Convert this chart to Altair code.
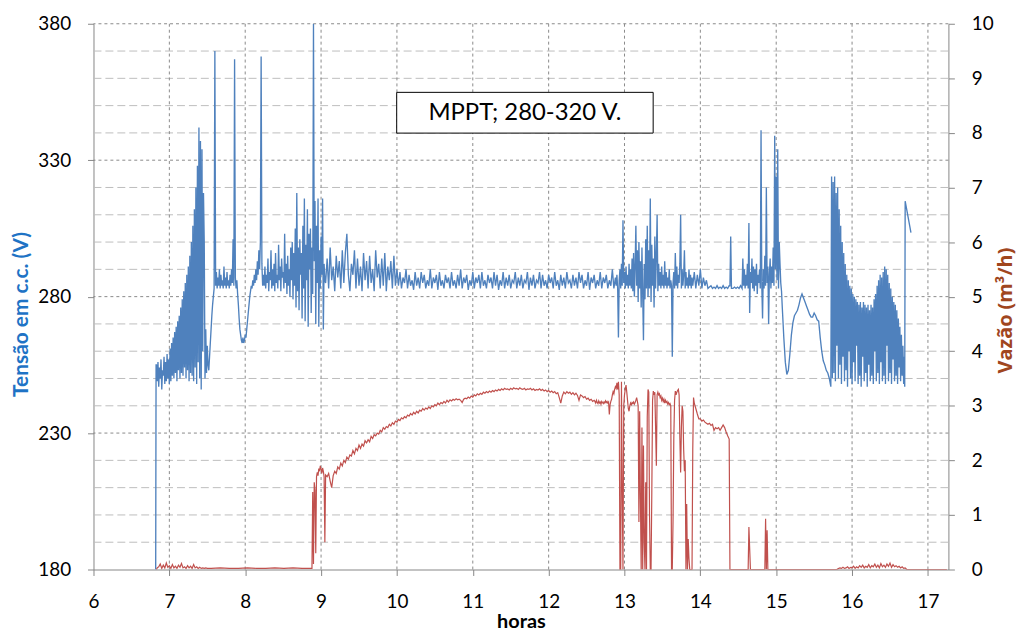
import altair as alt
import numpy as np
import pandas as pd

# ---------------- axis ticks / grid ----------------
HOURS = list(range(6, 18))
V_TICKS = [180, 230, 280, 330, 380]
Q_TICKS = list(range(0, 11))
V_MINOR = [190, 200, 210, 220, 240, 250, 260, 270, 290, 300, 310, 320, 340, 350, 360, 370]
V_MAJOR = [230, 280, 330, 380]
T_GRID = list(range(7, 18))
ANNOT = ["MPPT; 280-320 V."]

# ---------------- Tensão (V) : (start hour, end hour, readings) ----------------
V_START = [180, 255]
V_RAMP = [255, 249, 256, 247, 254, 250, 257, 246, 253, 251, 258, 248, 256, 249, 259, 250, 257, 248,
          261, 249, 263, 251, 265, 250, 267, 252, 269, 249, 271, 253, 273, 250, 276,
          252, 279, 251, 282, 254, 285, 250, 288, 253, 291, 249, 295, 252, 300, 251,
          306, 249, 312, 254, 320, 248, 328, 256, 342, 250, 337, 246, 334, 260, 318]
V_EARLY = [300, 250, 268, 252, 262, 255, 253, 258, 263, 268, 273, 277, 280, 283, 370, 284, 289, 283,
           287, 284, 290, 283, 288, 284, 286, 283, 291, 284, 287, 283, 289, 284, 286, 283, 288, 284,
           290, 285, 301, 284, 367, 287, 283, 286, 281]
V_DIP = [277, 272, 268, 266, 264, 263, 265, 263, 264, 266, 265, 268, 271, 274, 277, 280, 282, 284,
         283, 286, 284, 288, 285, 290, 286, 293, 288, 297, 290, 300]
V_SPIKE = [368, 292, 284, 288]
V_MORNING = [284, 291, 283, 288, 285, 294, 282, 289, 286, 297, 283, 290, 284, 292, 282, 296, 285, 288,
             283, 299, 286, 291, 282, 294, 287, 289, 283, 303, 285, 292, 281, 295, 284, 290, 280, 298]
V_NOISY = [286, 300, 279, 296, 284, 305, 276, 318, 282, 298, 275, 301, 288, 296, 272, 306, 283, 316,
           271, 299, 286, 312, 269, 303, 290, 305, 274, 298, 281, 380, 293, 315, 270, 306, 285, 316,
           269, 297, 283, 302, 288, 316, 268, 292, 286]
V_LATE = [285, 294, 283, 298, 286, 291, 282, 295, 287, 293,
          283, 297, 285, 296, 303, 288, 282, 292, 288, 297,
          283, 294, 284, 291, 282, 296, 286, 293, 283, 295,
          285, 290, 282, 297, 287, 292, 283, 294, 284, 296,
          282, 291, 286, 293, 283, 295, 284, 290]
V_MIDDAY = [284, 289, 283, 287, 285, 290, 283, 288, 284, 286, 282.5, 289,
            284, 287, 283, 289, 285, 288, 283, 286, 284, 290, 283, 287,
            285, 288, 282.5, 289, 284, 286, 283, 288, 285, 287, 283, 289,
            284, 286, 283, 288, 284, 290, 283, 287, 285, 288, 282.5, 286,
            284, 289, 283, 287, 285, 288, 283, 289, 284, 286, 283, 288,
            285, 287, 283, 289, 284, 288, 282.5, 286, 284, 289, 283, 287,
            284, 288, 283, 286, 285, 289, 283, 287, 284, 288, 283, 286,
            285, 289, 282.5, 287, 284, 288, 283, 286, 285, 289, 283, 288,
            284, 286, 283, 288, 285, 287, 283, 289, 284, 286, 282.5, 288,
            284, 287, 283, 289, 285, 286, 283, 288, 284, 287, 283, 289,
            285, 288, 283, 286, 284, 289, 282.5, 287, 285, 288, 283, 286,
            284, 289, 283, 287, 285, 288, 283, 286, 284, 290, 283, 287]
V_SPIKY = [284, 288, 283, 265, 286, 290, 283, 292, 284, 308,
           285, 289, 283, 291, 284, 288, 283, 292, 284, 290,
           283, 294, 282, 296, 280, 291, 306, 284, 297, 278,
           300, 283, 293, 276, 298, 281, 264, 292, 279, 301,
           283, 306, 280, 297, 283, 316, 278, 299, 284, 294,
           276, 302, 283, 295, 310, 282, 292, 284, 289, 283,
           291, 284, 288, 283, 293, 284, 289, 283, 287, 284,
           290, 283, 286, 284, 258, 285, 289, 283, 296, 284,
           291, 283, 288, 285, 292, 310, 283, 290, 284, 288,
           297, 283, 289, 284, 287, 283, 290, 284, 288, 283,
           287, 284]
V_QUIET = [289, 283, 288, 284, 290, 283, 287, 284, 286, 283]
V_FLAT = [283.5, 284, 283, 283.5, 283, 284, 283, 283.5, 283, 284, 283, 283.5, 283, 284]
V_SPIKE2 = [284, 302, 283]
V_FLAT2 = [283, 283.5, 283, 283.5, 283, 284, 283]
V_PM = [294, 284, 290, 283, 288, 284, 292, 283, 307, 274, 289, 285, 294, 283, 291, 282, 290, 284,
        292, 281, 288, 285, 290, 283, 341, 284, 272, 290, 283, 295, 284, 320, 285, 291, 270, 288,
        294, 283, 291, 285, 298, 284, 339, 290, 324, 286, 334, 283, 300, 292, 285, 282]
V_CURVE = [276, 265, 256, 251.5, 253, 259, 266, 270.5, 273, 274, 275, 277, 279.5, 281, 279.5, 278,
           276.5, 275, 273.5, 272.5, 272.5, 274, 273, 271.5, 271, 265, 260, 256.5, 255, 253, 252,
           250, 247]
V_OSC = [324, 250, 322, 252, 324, 249, 318, 262, 320, 250, 312, 255, 306, 248, 300, 258, 296, 249,
         292, 253, 288, 247, 286, 260, 284, 250, 283, 248, 281, 256, 280, 249, 279, 262, 278, 248,
         277, 251, 278, 247, 276, 258, 278, 249, 277, 252, 276, 247, 277, 255, 275, 249, 277, 251,
         276, 248, 279, 260, 281, 249, 284, 252, 286, 248, 288, 256, 287, 249, 289, 251, 291, 248,
         290, 262, 288, 249, 285, 252, 283, 248, 280, 257, 278, 249, 277, 251, 275, 248, 272, 254,
         269, 249, 266, 251, 262, 248, 258]
V_END1 = [247, 315]
V_END2 = [303.5]

BLUE_SEGMENTS = [
    (6.820, 6.825, V_START), (6.83, 7.45, V_RAMP), (7.46, 7.90, V_EARLY), (7.91, 8.20, V_DIP),
    (8.21, 8.24, V_SPIKE), (8.25, 8.60, V_MORNING), (8.61, 9.05, V_NOISY), (9.06, 10.00, V_LATE),
    (10.02, 12.88, V_MIDDAY), (12.89, 13.90, V_SPIKY), (13.92, 14.10, V_QUIET), (14.12, 14.38, V_FLAT),
    (14.39, 14.41, V_SPIKE2), (14.43, 14.55, V_FLAT2), (14.56, 15.07, V_PM), (15.08, 15.72, V_CURVE),
    (15.73, 16.69, V_OSC), (16.694, 16.70, V_END1), (16.776, 16.776, V_END2),
]

# ---------------- Vazão (m3/h) ----------------
Q_START = [0, 0.03]
Q_EARLY = [0.05, 0.1, 0.02, 0.08, 0.03, 0.12, 0.04, 0.07, 0.02, 0.09, 0.03, 0.06, 0.02, 0.08, 0.04,
           0.11, 0.03, 0.05, 0.02, 0.07, 0.03, 0.06, 0.02, 0.09, 0.03, 0.05, 0.02, 0.04, 0.02, 0.03,
           0.02, 0.03, 0.02]
Q_IDLE = [0.02, 0.03, 0.02, 0.02, 0.03, 0.02, 0.02, 0.03, 0.02, 0.03, 0.02, 0.02]
Q_STARTUP = [0.02, 1.42, 0.1, 1.6, 1.45, 0.3, 1.7, 1.78, 1.72, 1.85, 1.8, 1.9, 1.84, 1.76, 1.86, 1.8,
             1.7, 0.5, 1.73]
Q_RISE = [1.70, 1.76, 1.62, 1.5, 1.72, 1.8, 1.76, 1.88, 1.84, 1.95, 1.9, 2.0, 1.96, 2.06, 2.02, 2.1,
          2.08, 2.18, 2.12, 2.22, 2.18, 2.28, 2.22, 2.3, 2.26, 2.36, 2.32, 2.38, 2.34, 2.44, 2.4, 2.47,
          2.45, 2.5, 2.48, 2.55, 2.52, 2.6, 2.57, 2.62, 2.6, 2.66, 2.63, 2.69, 2.66, 2.72, 2.7, 2.75,
          2.73, 2.78, 2.76, 2.8, 2.78, 2.83, 2.81, 2.86, 2.83, 2.88, 2.85, 2.9, 2.87, 2.92, 2.9, 2.95,
          2.92, 2.96, 2.94, 2.98, 2.95, 3.0, 2.98, 3.02, 3.0, 3.05, 3.02, 3.06, 3.04, 3.08, 3.05, 3.1,
          3.07, 3.11, 3.09, 3.12, 3.1, 3.13, 3.11, 3.12, 3.1, 3.06, 3.12, 3.14]
Q_PLATEAU = [3.13, 3.16, 3.14, 3.18, 3.16, 3.2, 3.18, 3.22, 3.2, 3.23,
             3.21, 3.25, 3.23, 3.26, 3.24, 3.27, 3.25, 3.28, 3.26, 3.29,
             3.27, 3.3, 3.28, 3.31, 3.29, 3.32, 3.3, 3.31, 3.29, 3.32,
             3.3, 3.33, 3.31, 3.32, 3.3, 3.33, 3.31, 3.3, 3.32, 3.29,
             3.31, 3.3, 3.32, 3.29, 3.31, 3.28, 3.3, 3.29, 3.31, 3.28,
             3.3, 3.27, 3.29, 3.26, 3.28, 3.25, 3.27, 3.24, 3.26, 3.22,
             3.24, 3.15, 3.05, 3.18, 3.25, 3.22, 3.26, 3.23, 3.25, 3.21,
             3.24, 3.2, 3.23, 3.19, 3.1, 3.2, 3.18, 3.15, 3.17, 3.12,
             3.14, 3.1, 3.12, 3.08, 3.1]
Q_PRE = [3.08, 3.05, 3.1, 3.06, 3.04, 3.09, 3.05, 3.07, 3.03, 3.08, 3.06, 3.04, 3.07, 3.05, 3.09,
         3.06, 3.08, 3.05, 3.07, 2.84, 3.02, 3.08, 3.12, 3.2, 3.26, 3.22, 3.3, 3.35, 3.32, 3.42]
Q_TRIPS = [3.3, 3.44, 3.2, 0.0, 0.0, 3.44, 1.45, 0.0, 3.0, 3.2,
           3.3, 3.38, 3.25, 3.1, 2.95, 2.9, 3.0, 3.05, 3.02, 3.06,
           3.04, 3.07, 3.03, 3.06, 3.1, 3.15, 3.08, 3.0, 0.87, 2.9,
           1.3, 0.0, 2.6, 0.0, 2.27, 0.5, 0.0, 1.6, 0.0, 2.8,
           3.3, 3.25, 1.0, 0.0, 0.0, 1.4, 3.1, 3.27, 3.2, 3.25,
           2.6, 1.9, 3.2, 3.25, 3.2, 3.22, 3.15, 3.18, 3.1, 3.14,
           3.08, 3.12, 3.05, 3.1, 3.06, 3.08, 3.03, 3.06, 3.02, 3.04,
           3.0, 0.0, 0.0, 0.9, 2.4, 3.1, 3.27, 3.2, 3.25, 3.28,
           3.3, 3.2, 2.4, 1.78, 2.6, 3.0, 2.9, 2.2, 1.8, 2.0,
           0.0, 1.2, 0.0, 0.56, 0.2, 0.0, 0.0, 0.0, 0.0, 2.2,
           3.15, 3.05]
Q_DECLINE = [2.95, 2.85, 2.76, 2.76, 2.72, 2.74, 2.7, 2.68, 2.66, 2.68, 2.64, 2.66, 2.55, 2.6, 2.58,
             2.6, 2.55, 2.6, 2.65, 2.6, 2.52, 2.45, 2.39]
Q_OFF = [0.0, 0.0]
Q_BLIP1 = [0.78, 0.0]
Q_BLIP2 = [0.0, 0.93, 0.0, 0.72, 0.0, 0.0]
Q_OFF2 = [0.0, 0.0]
Q_EVENING = [0.02, 0.03, 0.02, 0.04, 0.02, 0.03, 0.05, 0.02, 0.04, 0.03, 0.06, 0.02, 0.05, 0.03,
             0.07, 0.04, 0.08, 0.03, 0.06, 0.04, 0.09, 0.03, 0.07, 0.05, 0.1, 0.04, 0.08, 0.03, 0.11,
             0.05, 0.08, 0.04, 0.1, 0.06, 0.12, 0.04, 0.09, 0.05, 0.07, 0.04, 0.06, 0.03, 0.05, 0.02,
             0.03]
Q_NIGHT = [0.0, 0.0]

RED_SEGMENTS = [
    (6.83, 6.84, Q_START), (6.86, 7.50, Q_EARLY), (7.55, 8.87, Q_IDLE), (8.88, 9.06, Q_STARTUP),
    (9.08, 10.90, Q_RISE), (10.92, 12.60, Q_PLATEAU), (12.61, 12.90, Q_PRE), (12.91, 13.92, Q_TRIPS),
    (13.94, 14.38, Q_DECLINE), (14.39, 14.63, Q_OFF), (14.64, 14.66, Q_BLIP1), (14.85, 14.90, Q_BLIP2),
    (14.92, 15.80, Q_OFF2), (15.82, 16.70, Q_EVENING), (16.72, 17.25, Q_NIGHT),
]


def build(segments, name):
    ts, vs = [], []
    for t0, t1, vals in segments:
        ts.extend(np.linspace(t0, t1, len(vals)).tolist())
        vs.extend(vals)
    return pd.DataFrame({"t": ts, name: vs, "i": list(range(len(ts)))})


blue_df = build(BLUE_SEGMENTS, "v")
red_df = build(RED_SEGMENTS, "q")

FONT = "Lato"
BLUE = "#4F81BD"
RED = "#C0504D"
AXC = "#868686"

xscale = alt.Scale(domain=[6, 17.27], nice=False, zero=False)
vscale = alt.Scale(domain=[180, 380], nice=False, zero=False)
qscale = alt.Scale(domain=[0, 10], nice=False, zero=True)

common = dict(labelFont=FONT, labelFontSize=19, labelColor="#000000", tickColor=AXC,
              domainColor=AXC, tickSize=6, grid=False, titleFontWeight="bold",
              labelFlush=False, labelOverlap=False)

x_axis = alt.Axis(values=HOURS, title="horas", format="d", labelPadding=17, titlePadding=0,
                  titleColor="#000000", titleFont=FONT, titleFontSize=20, **common)
y_left = alt.Axis(values=V_TICKS, title="Tensão em c.c. (V)", format="d", labelPadding=17,
                  titlePadding=6, titleColor="#1E73C5", titleFont=FONT, titleFontSize=21,
                  titleY=292, **common)
y_right = alt.Axis(orient="right", values=Q_TICKS, title="Vazão (m³/h)", format="d",
                   labelPadding=17, titlePadding=22, titleColor="#A0461E", titleAngle=270,
                   titleFont="Open Sans", titleFontSize=20, titleY=288,
                   labelAlign="left", **common)

X_ENC = alt.X("t:Q", scale=xscale, axis=x_axis)

minor = alt.Chart(pd.DataFrame({"v": V_MINOR})).mark_rule(
    color="#BDBDBD", strokeDash=[8, 4], strokeWidth=1
).encode(y=alt.Y("v:Q", scale=vscale, axis=y_left))

major = alt.Chart(pd.DataFrame({"v": V_MAJOR})).mark_rule(
    color="#8A8A8A", strokeDash=[3, 3], strokeWidth=1
).encode(y=alt.Y("v:Q", scale=vscale, axis=y_left))

vgrid = alt.Chart(pd.DataFrame({"t": T_GRID})).mark_rule(
    color="#8A8A8A", strokeDash=[3, 3], strokeWidth=1
).encode(x=X_ENC)

blue = alt.Chart(blue_df).mark_line(color=BLUE, strokeWidth=1.35, clip=True).encode(
    x=X_ENC,
    y=alt.Y("v:Q", scale=vscale, axis=y_left),
    order="i:Q",
)

left = alt.layer(minor, major, vgrid, blue)

red = alt.Chart(red_df).mark_line(color=RED, strokeWidth=1.2, clip=True).encode(
    x=X_ENC,
    y=alt.Y("q:Q", scale=qscale, axis=y_right),
    order="i:Q",
)

box = alt.Chart(pd.DataFrame({"label": ANNOT})).mark_rect(
    fill="white", stroke="#000000", strokeWidth=1
).encode(x=alt.value(305), x2=alt.value(563), y=alt.value(69), y2=alt.value(110))

label = alt.Chart(pd.DataFrame({"label": ANNOT})).mark_text(
    font=FONT, fontSize=24, color="#000000", align="center", baseline="middle"
).encode(x=alt.value(434), y=alt.value(90), text="label:N")

chart = alt.layer(left, red, box, label).resolve_scale(y="independent").properties(
    width=860, height=549,
    padding={"left": 86, "top": 14, "right": 70, "bottom": 60},
    autosize=alt.AutoSizeParams(type="none"),
).configure_view(stroke=None)

chart.save("out.html", embed_options={"renderer": "svg", "actions": False})
